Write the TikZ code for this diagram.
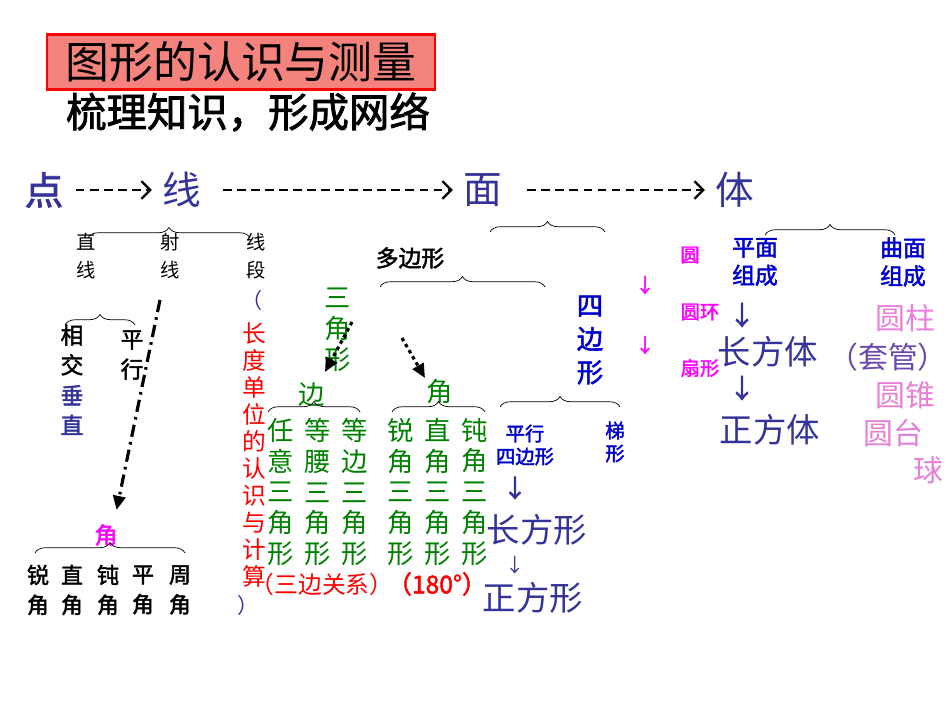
\documentclass[tikz,border=0pt]{standalone}
\usepackage{fontspec}
\setmainfont{Noto Sans CJK SC}
\newfontfamily\cj{Noto Sans CJK SC}
\newfontfamily\cjb[FakeBold=2]{Noto Sans CJK SC}
\usetikzlibrary{decorations.pathreplacing,arrows.meta}
\definecolor{dblue}{HTML}{333399}
\definecolor{bblue}{HTML}{0000CC}
\definecolor{dgreen}{HTML}{008000}
\definecolor{mag}{HTML}{FF00FF}
\definecolor{pinkk}{HTML}{E680D8}
\definecolor{tbox}{HTML}{F4837D}
\tikzset{
  t/.style={inner sep=0pt,align=center},
  brc/.style={decorate,decoration={brace,amplitude=6pt},thin},
  dsh/.style={line width=1.3pt,dash pattern=on 5pt off 3pt,-{Straight Barb[length=5pt]}},
  s1/.style={t,font=\cj\fontsize{11}{16}\selectfont},
  s2/.style={t,font=\cjb\fontsize{12.5}{17}\selectfont},
  sg/.style={t,font=\cj\fontsize{15}{17.6}\selectfont,text=dgreen},
  sr/.style={t,font=\cj\fontsize{13.5}{15.4}\selectfont,text=red},
  sb/.style={t,font=\cjb\fontsize{11}{13}\selectfont,text=bblue},
  sL/.style={t,font=\cj\fontsize{19}{22}\selectfont,text=dblue},
  sp/.style={t,font=\cj\fontsize{17}{22}\selectfont,text=pinkk},
  sm/.style={t,font=\cjb\fontsize{11}{13}\selectfont,text=mag},
}
\begin{document}
\begin{tikzpicture}[x=0.02cm,y=-0.02cm]
\useasboundingbox (0,0) rectangle (950,713);
% title
\node[draw=red,line width=1.2pt,fill=tbox,minimum width=388*0.02cm,minimum height=55*0.02cm,inner sep=0,font=\cj\fontsize{25}{28}\selectfont] (title) at (241,62) {图形的认识与测量};
\node[t,font=\cjb\fontsize{23}{26}\selectfont] (sub) at (248,112) {梳理知识，形成网络};
% top row
\node[t,font=\cjb\fontsize{22}{24}\selectfont,text=dblue] (dian) at (44,190) {点};
\node[t,font=\cj\fontsize{22}{24}\selectfont,text=dblue] (xian) at (182,190) {线};
\node[t,font=\cj\fontsize{22}{24}\selectfont,text=dblue] (mian) at (483,190) {面};
\node[t,font=\cj\fontsize{22}{24}\selectfont,text=dblue] (ti) at (735,190) {体};
\draw[dsh] (dian.east)++(12,0) -- ([xshift=-6]xian.west);
\draw[dsh] ([xshift=12]xian.east) -- ([xshift=-6]mian.west);
\draw[dsh] ([xshift=14]mian.east) -- ([xshift=-6]ti.west);
% line branch
\draw[brc] (88,238) -- (250,238);
\node[s1] (zx) at (86,256) {直\\线};
\node[s1] (sx) at (170,256) {射\\线};
\node[s1] (dx) at (256,256) {线\\段};
\node[t,font=\cj\fontsize{12}{14}\selectfont,text=dblue] (lp) at (252,300) {（};
\node[sr] (len) at (254,455) {长\\度\\单\\位\\的\\认\\识\\与\\计\\算};
\node[t,font=\cj\fontsize{12}{14}\selectfont,text=dblue] (rp) at (248,605) {）};
\draw[brc] (65,325) -- (135,325);
\node[t,font=\cjb\fontsize{13}{17}\selectfont] (xj) at (72,350) {相\\交};
\node[t,font=\cjb\fontsize{13}{17}\selectfont,text=dblue] (cz) at (72,410) {垂\\直};
\node[t,font=\cjb\fontsize{13}{17}\selectfont] (px) at (132,355) {平\\行};
\coordinate (a1) at (160,300);
\node[t,font=\cjb\fontsize{13}{15}\selectfont,text=mag] (jiao) at (106,535) {角};
\draw[line width=1.8pt,dash pattern=on 7pt off 3pt on 1.5pt off 3pt,-{Triangle[length=8pt,width=7pt]}] (a1) -- ([xshift=6,yshift=8]jiao.north);
\draw[brc] (35,553) -- (185,553);
\foreach \x/\c in {38/锐,72/直,108/钝,143/平,180/周}
  \node[s2] (j\x) at (\x,590) {\c\\角};
% triangle
\node[sg] (sjx) at (338,330) {三\\角\\形};
\node[sg] (bian) at (312,395) {边};
\draw[line width=1.8pt,dash pattern=on 2pt off 2pt,-{Triangle[length=8pt,width=7pt]}] (352,322) -- (325,372);
\draw[brc] (268,412) -- (360,412);
\node[sg] (t1) at (281,492) {任\\意\\三\\角\\形};
\node[sg] (t2) at (318,492) {等\\腰\\三\\角\\形};
\node[sg] (t3) at (355,492) {等\\边\\三\\角\\形};
\node[t,font=\cj\fontsize{13.5}{16}\selectfont,text=red] (sbgx) at (322,584) {（三边关系）};
\node[t,font=\cjb\fontsize{14}{16}\selectfont,text=red] (deg) at (437,584) {（180°）};
% polygon
\node[t,font=\cjb\fontsize{13}{15}\selectfont] (dbx) at (410,258) {多边形};
\draw[brc] (380,287) -- (545,287);
\draw[brc] (490,232) -- (605,232);
\draw[line width=1.8pt,dash pattern=on 2pt off 2pt,-{Triangle[length=8pt,width=7pt]}] (402,338) -- (425,378);
\node[sg] (jiao2) at (440,392) {角};
\draw[brc] (392,412) -- (485,412);
\node[sg] (r1) at (401,492) {锐\\角\\三\\角\\形};
\node[sg] (r2) at (438,492) {直\\角\\三\\角\\形};
\node[sg] (r3) at (475,492) {钝\\角\\三\\角\\形};
\node[t,font=\cjb\fontsize{15}{19}\selectfont,text=bblue] (sbx) at (590,340) {四\\边\\形};
\draw[brc] (500,407) -- (620,407);
\node[sb] (pxsb) at (525,445) {平行\\四边形};
\node[sb] (tx) at (615,442) {梯\\形};
\node[t,font=\cjb\fontsize{14}{16}\selectfont,text=dblue] (ar1) at (515,488) {↓};
\node[sL] (cfx) at (537,530) {长方形};
\node[t,font=\cj\fontsize{11}{13}\selectfont,text=dblue] (ar2) at (515,565) {↓};
\node[sL] (zfx) at (533,598) {正方形};
% circle
\node[sm] (yuan) at (690,255) {圆};
\node[sm] (ar3) at (645,285) {↓};
\node[sm] (yh) at (700,312) {圆环};
\node[sm] (ar4) at (645,345) {↓};
\node[sm] (sx2) at (700,368) {扇形};
% solids
\draw[brc] (765,235) -- (895,235);
\node[sb,font=\cjb\fontsize{13}{16}\selectfont] (pm) at (755,262) {平面\\组成};
\node[sb,font=\cjb\fontsize{13}{16}\selectfont] (qm) at (903,262) {曲面\\组成};
\node[t,font=\cjb\fontsize{15}{17}\selectfont,text=dblue] (ar5) at (742,315) {↓};
\node[sL] (cft) at (768,352) {长方体};
\node[t,font=\cjb\fontsize{15}{17}\selectfont,text=dblue] (ar6) at (742,388) {↓};
\node[sL] (zft) at (770,430) {正方体};
\node[sp] (yz) at (905,318) {圆柱};
\node[sp,text=dblue!70!pinkk] (tg) at (888,357) {（套管）};
\node[sp] (yzh) at (905,395) {圆锥};
\node[sp] (yt) at (893,433) {圆台};
\node[sp] (qiu) at (928,470) {球};
\end{tikzpicture}
\end{document}
